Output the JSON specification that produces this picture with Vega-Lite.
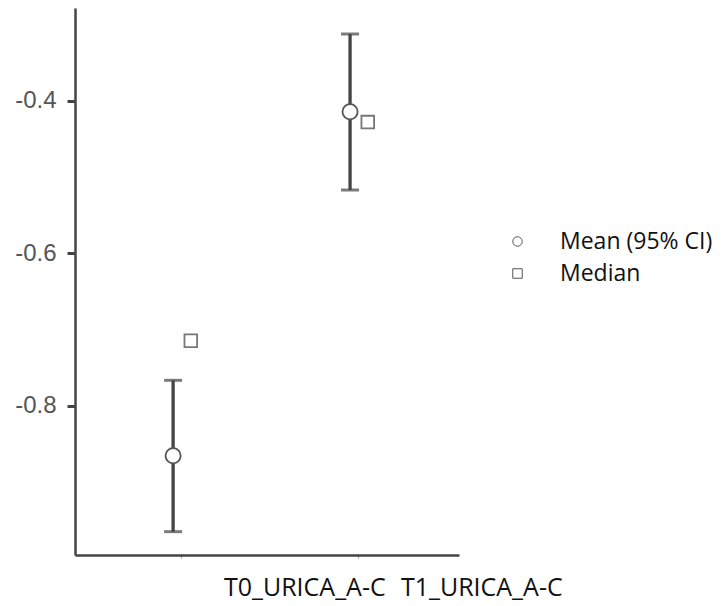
{
  "$schema": "https://vega.github.io/schema/vega-lite/v6.json",
  "width": 384,
  "height": 547,
  "autosize": {"type": "none"},
  "padding": {"left": 75, "top": 8, "right": 265, "bottom": 51},
  "background": "white",
  "config": {"view": {"stroke": null}},
  "data": {
    "values": [
      {"time": "T0_URICA_A-C", "mean": -0.8656, "lo": -0.9652, "hi": -0.7667, "median": -0.7148},
      {"time": "T1_URICA_A-C", "mean": -0.4144, "lo": -0.5171, "hi": -0.3125, "median": -0.428}
    ]
  },
  "encoding": {
    "x": {
      "field": "time",
      "type": "nominal",
      "scale": {"type": "band", "paddingInner": 0.8, "paddingOuter": 0.485, "align": 0.52},
      "axis": {
        "title": null,
        "labelAngle": 0,
        "labelAlign": "left",
        "labelOffset": 42,
        "labelBaseline": "alphabetic",
        "labelPadding": 37,
        "labelFont": "Open Sans",
        "labelFontSize": 25,
        "labelColor": "#111111",
        "labelOverlap": false,
        "labelBound": false,
        "tickSize": 3,
        "tickColor": "#999999",
        "tickWidth": 1,
        "domainColor": "#444444",
        "domainWidth": 2.5,
        "grid": false
      }
    },
    "xOffset": {"datum": "Mean", "scale": {"domain": ["Mean", "Median"]}}
  },
  "layer": [
    {
      "mark": {"type": "rule", "color": "#444444", "strokeWidth": 3.3},
      "encoding": {
        "y": {
          "field": "lo",
          "type": "quantitative",
          "scale": {"domain": [-0.9958, -0.2784], "nice": false, "zero": false},
          "axis": {
            "title": null,
            "values": [-0.8, -0.6, -0.4],
            "format": ".1f",
            "labelExpr": "replace(datum.label, '−', '-')",
            "labelFont": "Liberation Sans",
            "labelFontSize": 24,
            "labelColor": "#555555",
            "labelPadding": 11,
            "tickSize": 8,
            "tickWidth": 3,
            "tickColor": "#444444",
            "domainColor": "#444444",
            "domainWidth": 2.5,
            "grid": false
          }
        },
        "y2": {"field": "hi"}
      }
    },
    {
      "mark": {"type": "tick", "color": "#444444", "size": 18, "thickness": 3, "orient": "horizontal"},
      "encoding": {"y": {"field": "lo", "type": "quantitative"}}
    },
    {
      "mark": {"type": "tick", "color": "#444444", "size": 18, "thickness": 3, "orient": "horizontal"},
      "encoding": {"y": {"field": "hi", "type": "quantitative"}}
    },
    {
      "mark": {"type": "point", "filled": false, "fill": "white", "fillOpacity": 1, "stroke": "#555555", "strokeWidth": 1.8, "size": 230, "opacity": 1},
      "encoding": {
        "y": {"field": "mean", "type": "quantitative"},
        "shape": {
          "datum": "Mean (95% CI)",
          "type": "nominal",
          "scale": {"domain": ["Mean (95% CI)", "Median"], "range": ["circle", "square"]},
          "legend": {
            "title": null,
            "orient": "none",
            "legendX": 431,
            "legendY": 222,
            "padding": 0,
            "labelFont": "Open Sans",
            "labelFontSize": 23,
            "labelColor": "#111111",
            "labelOffset": 31,
            "rowPadding": 8,
            "symbolSize": 90,
            "symbolStrokeWidth": 1,
            "encode": {
              "symbols": {
                "update": {
                  "fill": {"value": "white"},
                  "stroke": {"value": "#222222"},
                  "strokeWidth": {"value": 1},
                  "opacity": {"value": 1}
                }
              }
            }
          }
        }
      }
    },
    {
      "mark": {"type": "point", "filled": false, "fill": "white", "fillOpacity": 1, "stroke": "#777777", "strokeWidth": 1.8, "size": 160, "opacity": 1},
      "encoding": {
        "xOffset": {"datum": "Median"},
        "y": {"field": "median", "type": "quantitative"},
        "shape": {"datum": "Median", "type": "nominal"}
      }
    }
  ]
}
